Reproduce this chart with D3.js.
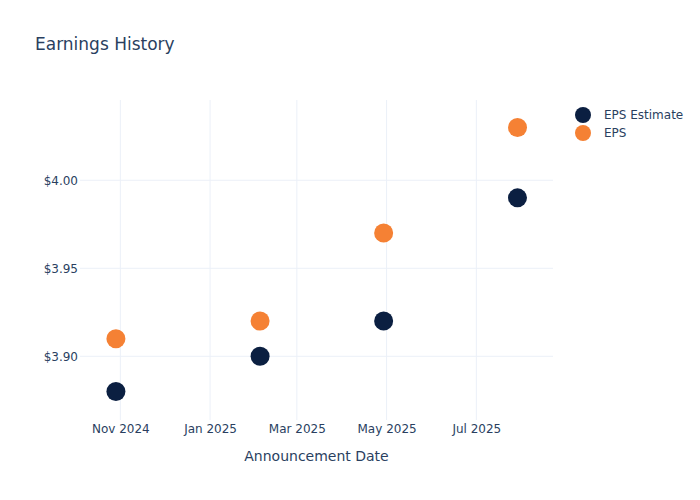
<!DOCTYPE html>
<html>
<head>
<meta charset="utf-8">
<script src="https://cdn.jsdelivr.net/npm/d3@7"></script>
<style>
  html, body { margin: 0; padding: 0; background: #fff; }
  text { font-family: "DejaVu Sans", Verdana, sans-serif; }
</style>
</head>
<body>
<svg id="chart" width="700" height="500"></svg>
<script>
const dates = ["2024-10-29", "2025-02-04", "2025-04-29", "2025-07-29"];
const epsEstimate = [3.88, 3.90, 3.92, 3.99];
const eps = [3.91, 3.92, 3.97, 4.03];
const xTickDates = ["2024-11-01", "2025-01-01", "2025-03-01", "2025-05-01", "2025-07-01"];
const yTicks = [3.90, 3.95, 4.00];
const seriesNames = ["EPS Estimate", "EPS"];
const seriesColors = ["#0b1f41", "#f58134"];

const parse = d3.utcParse("%Y-%m-%d");
const W = 700, H = 500;
const m = { l: 80, r: 147, t: 100, b: 80 };
const svg = d3.select("#chart");

const x = d3.scaleUtc()
  .domain([new Date(Date.UTC(2024, 9, 4, 14)), new Date(Date.UTC(2025, 7, 22, 3))])
  .range([m.l, W - m.r]);
const y = d3.scaleLinear()
  .domain([3.8638, 4.0456])
  .range([H - m.b, m.t]);

const txt = "#2a3f5f";
const grid = "#ebf0f8";

// grid
svg.append("g").selectAll("line").data(xTickDates).join("line")
  .attr("x1", d => x(parse(d))).attr("x2", d => x(parse(d)))
  .attr("y1", m.t).attr("y2", H - m.b)
  .attr("stroke", grid).attr("stroke-width", 1);
svg.append("g").selectAll("line").data(yTicks).join("line")
  .attr("x1", m.l).attr("x2", W - m.r)
  .attr("y1", d => y(d)).attr("y2", d => y(d))
  .attr("stroke", grid).attr("stroke-width", 1);

// axes via d3 axis, restyled
const xAxis = d3.axisBottom(x)
  .tickValues(xTickDates.map(parse))
  .tickFormat(d3.utcFormat("%b %Y"))
  .tickSize(0).tickPadding(4);
const gx = svg.append("g").attr("transform", `translate(0,${H - m.b})`).call(xAxis);
gx.select(".domain").remove();
gx.selectAll("text").attr("fill", txt).style("font-size", "12px");

const yAxis = d3.axisLeft(y)
  .tickValues(yTicks)
  .tickFormat(d => "$" + d3.format(".2f")(d))
  .tickSize(0).tickPadding(2);
const gy = svg.append("g").attr("transform", `translate(${m.l},0)`).call(yAxis);
gy.select(".domain").remove();
gy.selectAll("text").attr("fill", txt).style("font-size", "12px");

// points
const seriesData = [epsEstimate, eps];
seriesData.forEach((vals, si) => {
  svg.append("g").selectAll("circle").data(vals).join("circle")
    .attr("cx", (d, i) => x(parse(dates[i])))
    .attr("cy", d => y(d))
    .attr("r", 9.5)
    .attr("fill", seriesColors[si]);
});

// title
svg.append("text").attr("x", 35).attr("y", 50)
  .attr("fill", txt).style("font-size", "17px").text("Earnings History");

// x axis title
svg.append("text").attr("x", (m.l + W - m.r) / 2).attr("y", 461)
  .attr("text-anchor", "middle").attr("fill", txt).style("font-size", "14px")
  .text("Announcement Date");

// legend
const lg = svg.append("g");
seriesNames.forEach((n, i) => {
  lg.append("circle").attr("cx", 583).attr("cy", 115 + i * 18).attr("r", 8)
    .attr("fill", seriesColors[i]);
  lg.append("text").attr("x", 604).attr("y", 119 + i * 18)
    .attr("fill", txt).style("font-size", "12px").text(n);
});
</script>
</body>
</html>
